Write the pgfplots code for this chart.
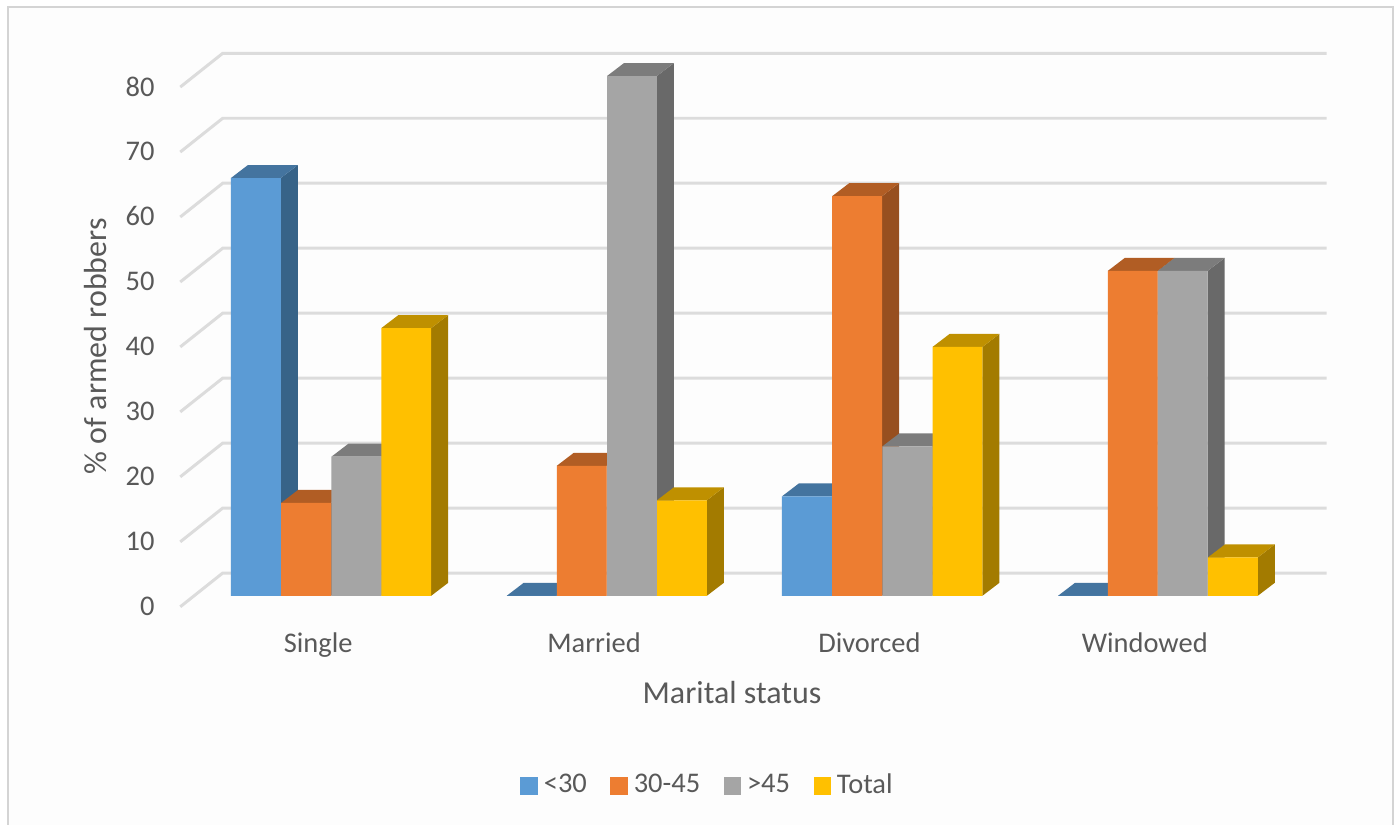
\documentclass[border=0pt]{standalone}
\usepackage{fontspec}
\setmainfont{Carlito}
\usepackage{pgfplots}
\pgfplotsset{compat=1.18}

\definecolor{chartbg}{HTML}{FDFDFD}
\definecolor{frameline}{HTML}{D4D4D4}
\definecolor{gridline}{HTML}{DCDCDC}
\definecolor{inktext}{HTML}{595959}
\definecolor{blueF}{HTML}{5B9BD5}
\definecolor{blueT}{HTML}{44749F}
\definecolor{blueS}{HTML}{376388}
\definecolor{orangeF}{HTML}{ED7D31}
\definecolor{orangeT}{HTML}{B15D24}
\definecolor{orangeS}{HTML}{974F1F}
\definecolor{grayF}{HTML}{A5A5A5}
\definecolor{grayT}{HTML}{7C7C7C}
\definecolor{grayS}{HTML}{696969}
\definecolor{yellowF}{HTML}{FFC000}
\definecolor{yellowT}{HTML}{BF9000}
\definecolor{yellowS}{HTML}{A37B00}

\newcommand{\tickfont}{\fontsize{8.1}{9.6}\selectfont}
\newcommand{\legendfont}{\fontsize{8.1}{9.6}\selectfont}
\newcommand{\titlefont}{\fontsize{9.1}{10.8}\selectfont}

% One wall line of the chart: the slanted floor edge and the run along the back.
\newcommand{\wallline}[1]{%
  \pgfmathsetmacro{\yf}{#1-1.7}%
  \pgfmathsetmacro{\yb}{#1+3.5}%
  \addplot[gridline, line width=0.85pt, forget plot] coordinates {(180,\yf) (222.5,\yb) (1327,\yb)};%
}

% One bar: left edge, value, colour prefix. Depth is 17 units across and 2 up.
\newcommand{\prism}[3]{%
  \pgfmathsetmacro{\xa}{#1+49.9}%
  \pgfmathsetmacro{\xb}{#1+66.9}%
  \pgfmathsetmacro{\xc}{#1+17}%
  \pgfmathsetmacro{\vb}{#2+2}%
  \addplot[fill=#3S, draw=none, forget plot] coordinates {(\xa,0) (\xb,2) (\xb,\vb) (\xa,#2) (\xa,0)};%
  \addplot[fill=#3T, draw=none, forget plot] coordinates {(#1,#2) (\xa,#2) (\xb,\vb) (\xc,\vb) (#1,#2)};%
  \addplot[fill=#3F, draw=none, forget plot] coordinates {(#1,0) (\xa,0) (\xa,#2) (#1,#2) (#1,0)};%
}

\pgfplotsset{
  swatch/.style={
    legend image code/.code={
      \fill[#1] (0cm,-0.08cm) rectangle (0.16cm,0.08cm);
    }
  }
}

\begin{document}
\begin{tikzpicture}
% panel and its frame, open at the bottom
\path (0,0) rectangle (14,8.25);
\fill[chartbg] (0.08,0) rectangle (13.93,8.18);
\draw[frameline, line width=0.6pt] (0.08,0) -- (0.08,8.18) -- (13.93,8.18) -- (13.93,0);
\begin{axis}[
  at={(0,0)}, anchor=south west,
  scale only axis, width=14cm, height=8.25cm,
  xmin=0, xmax=1400, ymin=-35.28, ymax=91.65,
  axis line style={draw=none},
  major tick length=0pt,
  xtick={318,594,869.5,1145},
  xticklabels={Single,Married,Divorced,Windowed},
  ytick={0,10,...,80},
  /pgf/number format/assume math mode=true,
  tick label style={font=\tickfont, text=inktext, inner sep=0pt},
  yticklabel style={anchor=east, xshift=1.55cm, yshift=-0.105cm},
  xticklabel style={anchor=base, yshift=1.725cm},
  xlabel={Marital status},
  xlabel style={at={(axis description cs:0.5229,0.1467)}, anchor=base, font=\titlefont, text=inktext, inner sep=0pt},
  ylabel={\% of armed robbers},
  ylabel style={at={(axis description cs:0.0757,0.5806)}, anchor=base, rotate=0, font=\titlefont, text=inktext, inner sep=0pt},
  legend columns=4,
  legend style={
    at={(axis description cs:0.3712,0.0473)}, anchor=west,
    draw=none, fill=none, inner sep=0pt, font=\legendfont, text=inktext,
    /tikz/every odd column/.style={column sep=0.06cm},
    /tikz/every even column/.style={column sep=0.235cm},
    nodes={inner sep=0pt},
  },
]
\wallline{0}\wallline{10}\wallline{20}\wallline{30}\wallline{40}
\wallline{50}\wallline{60}\wallline{70}\wallline{80}

% Single
\prism{230.7}{64.3}{blue}
\prism{281}{14.3}{orange}
\prism{331.2}{21.4}{gray}
\prism{381.2}{41.2}{yellow}
% Married
\prism{506.7}{0}{blue}
\prism{556.7}{20}{orange}
\prism{607}{80}{gray}
\prism{657}{14.7}{yellow}
% Divorced
\prism{782}{15.3}{blue}
\prism{832.2}{61.5}{orange}
\prism{882.5}{23}{gray}
\prism{932.7}{38.3}{yellow}
% Windowed
\prism{1058.3}{0}{blue}
\prism{1108}{50}{orange}
\prism{1158}{50}{gray}
\prism{1208.2}{5.9}{yellow}

\addlegendimage{swatch=blueF}\addlegendentry{<30}
\addlegendimage{swatch=orangeF}\addlegendentry{30-45}
\addlegendimage{swatch=grayF}\addlegendentry{>45}
\addlegendimage{swatch=yellowF}\addlegendentry{Total}
\end{axis}
\end{tikzpicture}
\end{document}
